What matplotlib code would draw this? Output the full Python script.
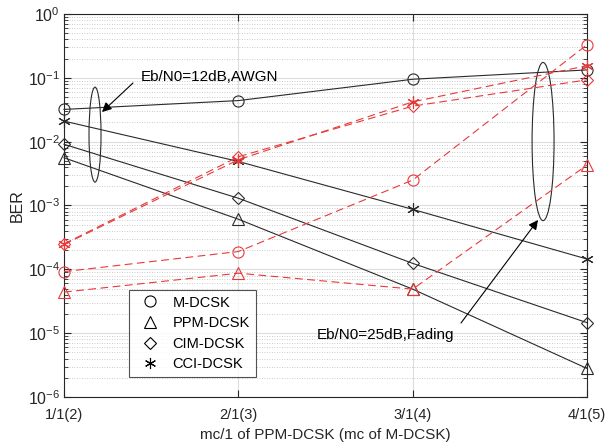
import matplotlib
matplotlib.use("Agg")
import matplotlib.pyplot as plt
from matplotlib.patches import Ellipse
from matplotlib.ticker import LogLocator, FixedLocator, NullFormatter

plt.rcParams['font.family'] = ['Liberation Sans', 'DejaVu Sans']
plt.rcParams['mathtext.fontset'] = 'custom'
plt.rcParams['mathtext.rm'] = 'Liberation Sans'
plt.rcParams['mathtext.it'] = 'Liberation Sans'

x = [1, 2, 3, 4]
xticklabels = ['1/1(2)', '2/1(3)', '3/1(4)', '4/1(5)']
series_names = ['M-DCSK', 'PPM-DCSK', 'CIM-DCSK', 'CCI-DCSK']

# AWGN, Eb/N0 = 12 dB (black solid)
awgn_m = [0.032, 0.044, 0.095, 0.133]
awgn_ppm = [0.0056, 6.1e-4, 4.9e-5, 2.8e-6]
awgn_cim = [0.0091, 0.0013, 1.24e-4, 1.46e-5]
awgn_cci = [0.021, 0.0049, 8.7e-4, 1.45e-4]

# Fading, Eb/N0 = 25 dB (red dashed)
fad_m = [9.2e-5, 1.9e-4, 2.5e-3, 0.33]
fad_ppm = [4.4e-5, 8.7e-5, 4.9e-5, 4.3e-3]
fad_cim = [2.5e-4, 0.0058, 0.036, 0.093]
fad_cci = [2.45e-4, 0.0052, 0.042, 0.155]

markers = ['o', '^', 'D', (6, 2, 0)]
msizes = [8, 9, 6, 9]
black = '#2a2a2a'
red = '#e8393a'

fig = plt.figure(figsize=(6.06, 4.48), dpi=100)
ax = fig.add_axes([64/606, 1-397/448, 523/606, 383/448])

for vals, m, ms in zip([awgn_m, awgn_ppm, awgn_cim, awgn_cci], markers, msizes):
    ax.plot(x, vals, color=black, lw=0.8, marker=m, ms=ms,
            mfc='none', mec=black, mew=0.8, clip_on=False, zorder=3)
for vals, m, ms in zip([fad_m, fad_ppm, fad_cim, fad_cci], markers, msizes):
    ax.plot(x, vals, color=red, lw=0.8, ls=(0, (7, 4)), marker=m,
            ms=ms, mfc='none', mec=red, mew=0.8, clip_on=False, zorder=3)

ax.set_yscale('log')
ax.set_xlim(1, 4)
ax.set_ylim(1e-6, 1)
ax.xaxis.set_major_locator(FixedLocator(x))
ax.set_xticklabels(xticklabels)
ax.yaxis.set_minor_locator(LogLocator(base=10, subs=range(2, 10), numticks=20))
ax.yaxis.set_minor_formatter(NullFormatter())
ax.set_yticks([10.0**k for k in range(-6, 1)])
ax.set_yticklabels([r'$10^{%d}$' % k for k in range(-6, 1)])

ax.grid(True, which='major', color='#dddddd', lw=0.8, ls='-')
ax.grid(True, which='minor', axis='y', color='#bbbbbb', lw=0.6, ls=(0, (1, 2)))
ax.set_axisbelow(True)
ax.tick_params(which='both', direction='in', top=True, right=True, colors='#262626')
ax.tick_params(axis='y', labelsize=11.5, pad=3)
ax.tick_params(axis='x', labelsize=10.5, pad=8)
ax.tick_params(which='major', length=5)
ax.tick_params(which='minor', length=3)
for s in ax.spines.values():
    s.set_color('#262626')
    s.set_linewidth(0.8)

ax.set_xlabel('mc/1 of PPM-DCSK (mc of M-DCSK)', fontsize=11, color='#262626')
ax.set_ylabel('BER', fontsize=11.5, color='#262626')
ax.xaxis.labelpad = 4
ax.yaxis.labelpad = 2

# legend with black markers only
handles = []
for name, m in zip(series_names, markers):
    h, = ax.plot([], [], ls='none', marker=m, ms=8 if m != 'D' else 6.5,
                 mfc='none', mec='black', mew=0.8, label=name)
    handles.append(h)
leg = ax.legend(handles=handles, loc='lower left', bbox_to_anchor=(0.124, 0.052),
                borderaxespad=0, fontsize=10.5, frameon=True, fancybox=False,
                edgecolor='#262626', handletextpad=0.5, labelspacing=0.45,
                borderpad=0.4, handlelength=2.1)
leg.get_frame().set_linewidth(0.8)

# ellipses and annotations (axes coordinates)
ax.add_patch(Ellipse((0.0593, 0.685), 0.023, 0.248, transform=ax.transAxes,
                     fill=False, ec=black, lw=0.8))
ax.add_patch(Ellipse((0.916, 0.667), 0.042, 0.413, transform=ax.transAxes,
                     fill=False, ec=black, lw=0.8))

def axfrac(px, py):
    return ((px - 64) / 523, 1 - (py - 14) / 383)

ax.annotate('', xy=axfrac(102, 112), xytext=axfrac(133, 83),
            xycoords='axes fraction', textcoords='axes fraction',
            arrowprops=dict(arrowstyle='-|>', color='black', lw=0.8,
                            mutation_scale=14, shrinkA=0, shrinkB=0))
ax.text(*axfrac(210, 77), 'Eb/N0=12dB,AWGN', transform=ax.transAxes,
        ha='center', va='center', fontsize=11)
ax.annotate('', xy=axfrac(538, 220), xytext=axfrac(461, 323),
            xycoords='axes fraction', textcoords='axes fraction',
            arrowprops=dict(arrowstyle='-|>', color='black', lw=0.8,
                            mutation_scale=14, shrinkA=0, shrinkB=0))
ax.text(*axfrac(386, 335), 'Eb/N0=25dB,Fading', transform=ax.transAxes,
        ha='center', va='center', fontsize=11)

fig.savefig('out.png', dpi=100)
